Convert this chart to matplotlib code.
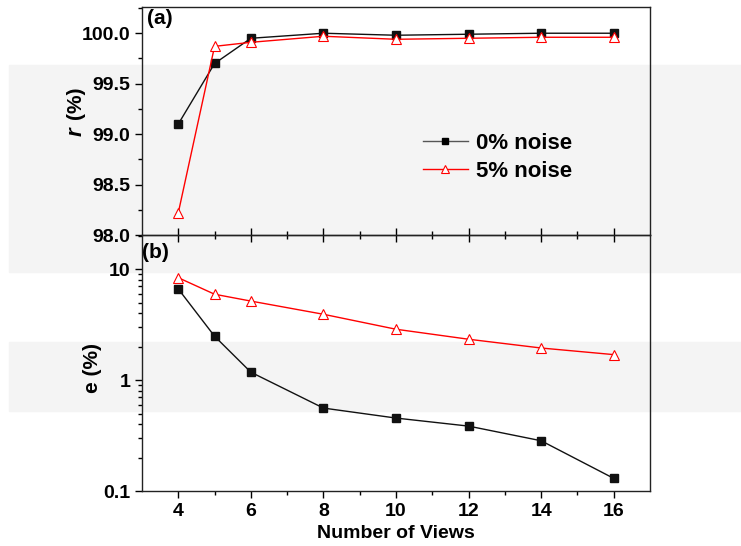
import numpy as np
import matplotlib
matplotlib.use("Agg")
from matplotlib import pyplot as plt
from matplotlib.patches import Rectangle
from matplotlib.ticker import MultipleLocator, LogLocator, NullFormatter, FixedLocator, FormatStrFormatter

plt.rcParams['font.family'] = ['Liberation Sans', 'DejaVu Sans']
plt.rcParams['font.weight'] = 'bold'

views = [4, 5, 6, 8, 10, 12, 14, 16]
r_0 = [99.10, 99.70, 99.95, 100.00, 99.98, 99.99, 100.00, 100.00]
r_5 = [98.22, 99.87, 99.91, 99.97, 99.94, 99.95, 99.96, 99.96]
e_0 = [6.65, 2.49, 1.18, 0.56, 0.455, 0.385, 0.284, 0.13]
e_5 = [8.4, 5.96, 5.17, 3.93, 2.88, 2.34, 1.95, 1.70]

fig = plt.figure(figsize=(7.41, 5.46), dpi=100)
W, H = 741, 546

# light gray bands in the background of the scan
for y0, y1 in [(65, 272), (342, 411)]:
    fig.patches.append(Rectangle((9 / W, 1 - y1 / H), 1, (y1 - y0) / H,
                                 transform=fig.transFigure, color='#f4f4f4', zorder=-10))

left, right = 142 / W, 650 / W
ax1 = fig.add_axes([left, 1 - 235 / H, right - left, 228 / H])
ax2 = fig.add_axes([left, 1 - 491 / H, right - left, 256 / H])
for ax in (ax1, ax2):
    ax.set_facecolor('none')
    for s in ax.spines.values():
        s.set_linewidth(1.0)
        s.set_color('#222222')

ax1.plot(views, r_0, color='#111111', lw=1.0, marker='s', ms=5.5, label='0% noise')
ax1.plot(views, r_5, color='red', lw=1.0, marker='^', ms=7, mfc='white', mec='red',
         mew=0.8, label='5% noise')
ax1.set_xlim(3, 17)
ax1.set_ylim(98.0, 100.26)
ax1.yaxis.set_major_locator(MultipleLocator(0.5))
ax1.yaxis.set_minor_locator(MultipleLocator(0.25))
ax1.yaxis.set_major_formatter(FormatStrFormatter('%.1f'))
ax1.xaxis.set_major_locator(FixedLocator([4, 6, 8, 10, 12, 14, 16]))
ax1.xaxis.set_minor_locator(FixedLocator([5, 7, 9, 11, 13, 15]))
ax1.tick_params(axis='x', which='major', direction='inout', length=10, width=1, labelbottom=False)
ax1.tick_params(axis='x', which='minor', direction='inout', length=6, width=1)
ax1.tick_params(axis='y', which='major', direction='out', length=5, width=1, labelsize=14)
ax1.tick_params(axis='y', which='minor', direction='out', length=3, width=1)
fig.text(76 / W, 1 - 132 / H, 'r', fontsize=16, fontweight='bold', style='italic',
         rotation=90, ha='center', va='center')
fig.text(76 / W, 1 - 103 / H, '(%)', fontsize=15, fontweight='bold',
         rotation=90, ha='center', va='center')
ax1.text(0.01, 0.99, '(a)', transform=ax1.transAxes, fontsize=15, fontweight='bold',
         ha='left', va='top')
leg = ax1.legend(loc='upper left', bbox_to_anchor=(0.514, 0.535), frameon=False,
                 fontsize=16, handlelength=2.0, handletextpad=0.4, labelspacing=0.3,
                 markerscale=0.75)
leg.get_lines()[0].set_color('#555555')
leg.get_lines()[0].set_markerfacecolor('black')
leg.get_lines()[0].set_markeredgecolor('black')

ax2.plot(views, e_0, color='#111111', lw=1.0, marker='s', ms=5.5)
ax2.plot(views, e_5, color='red', lw=1.0, marker='^', ms=7, mfc='white', mec='red', mew=0.8)
ax2.set_yscale('log')
ax2.set_xlim(3, 17)
ax2.set_ylim(0.1, 20.4)
ax2.set_yticks([0.1, 1, 10])
ax2.set_yticklabels(['0.1', '1', '10'])
ax2.yaxis.set_minor_locator(LogLocator(base=10, subs=np.arange(2, 10)))
ax2.yaxis.set_minor_formatter(NullFormatter())
ax2.xaxis.set_major_locator(FixedLocator([4, 6, 8, 10, 12, 14, 16]))
ax2.xaxis.set_minor_locator(FixedLocator([5, 7, 9, 11, 13, 15]))
ax2.tick_params(axis='x', which='major', direction='out', length=5, width=1, labelsize=14)
ax2.tick_params(axis='x', which='minor', direction='out', length=3, width=1)
ax2.tick_params(axis='y', which='major', direction='out', length=5, width=1, labelsize=14)
ax2.tick_params(axis='y', which='minor', direction='out', length=3, width=1)
ax2.set_xlabel('Number of Views', fontsize=14, fontweight='bold', labelpad=4)
fig.text(93 / W, 1 - 368 / H, 'e (%)', fontsize=15, fontweight='bold',
         rotation=90, ha='center', va='center')
ax2.text(0.0, 0.97, '(b)', transform=ax2.transAxes, fontsize=15, fontweight='bold',
         ha='left', va='top')

fig.savefig('out.png', dpi=100)
